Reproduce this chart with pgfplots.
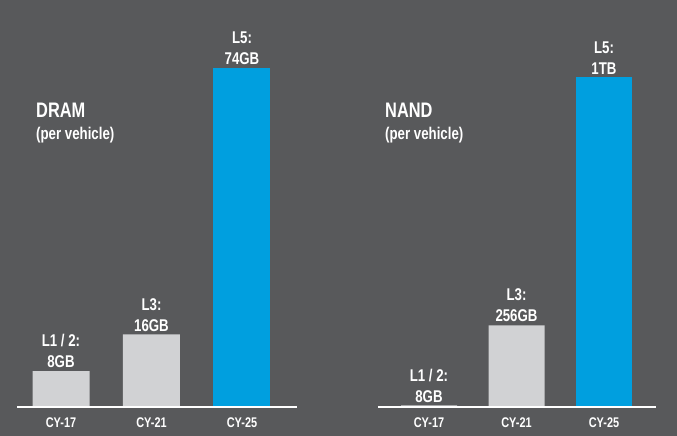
\documentclass[border=0pt]{standalone}
\usepackage{pgfplots}
\pgfplotsset{compat=1.18}
\usepackage{fontspec}
\setmainfont[FakeStretch=0.78]{Liberation Sans}
\definecolor{bg}{HTML}{58595B}
\definecolor{barg}{HTML}{D1D2D4}
\definecolor{barb}{HTML}{009FDF}
\pgfplotsset{
  memchart/.style={
    scale only axis, anchor=origin,
    hide y axis, axis x line*=bottom,
    x axis line style={draw=none},
    ymin=0, xtick={0,1,2},
    xticklabels={CY-17,CY-21,CY-25},
    major tick length=0pt,
    xticklabel style={font=\fontsize{14bp}{16bp}\selectfont\bfseries, text=white, yshift=-6bp},
    ybar, bar width=57bp, bar shift=0pt,
    point meta=explicit symbolic,
    nodes near coords,
    every node near coord/.append style={align=center, text=white, inner sep=0pt, yshift=3bp,
      font=\fontsize{17bp}{21bp}\selectfont\bfseries},
  }
}
\begin{document}
\begin{tikzpicture}
\fill[bg] (0,0) rectangle (677bp,436bp);
% DRAM
\begin{axis}[memchart, at={(61bp,28bp)}, width=280bp, height=368bp,
  xmin=-0.486, xmax=2.608, ymax=80]
  \addplot[fill=barg, draw=none] coordinates {(0,8) [L1 / 2:\\8GB] (1,16) [L3:\\16GB]};
  \addplot[fill=barb, draw=none] coordinates {(2,74) [L5:\\74GB]};
  \draw[white, line width=3bp] (axis cs:-0.486,0) -- (axis cs:2.608,0);
\end{axis}
% NAND
\begin{axis}[memchart, at={(429bp,28bp)}, width=278bp, height=355.3bp,
  xmin=-0.583, xmax=2.594, ymax=1100, bar width=56bp]
  \addplot[fill=barg, draw=none] coordinates {(0,8) [L1 / 2:\\8GB] (1,256) [L3:\\256GB]};
  \addplot[fill=barb, draw=none] coordinates {(2,1024) [L5:\\1TB]};
  \draw[white, line width=3bp] (axis cs:-0.583,0) -- (axis cs:2.594,0);
\end{axis}
\node[anchor=base west, inner sep=0pt, text=white, font=\fontsize{21bp}{24bp}\selectfont\bfseries] at (36bp,318bp) {DRAM};
\node[anchor=base west, inner sep=0pt, text=white, font=\fontsize{17bp}{20bp}\selectfont\bfseries] at (36bp,296bp) {(per vehicle)};
\node[anchor=base west, inner sep=0pt, text=white, font=\fontsize{21bp}{24bp}\selectfont\bfseries] at (385bp,318bp) {NAND};
\node[anchor=base west, inner sep=0pt, text=white, font=\fontsize{17bp}{20bp}\selectfont\bfseries] at (385bp,296bp) {(per vehicle)};
\pgfresetboundingbox
\path (0,0) rectangle (677bp,436bp);
\end{tikzpicture}
\end{document}
